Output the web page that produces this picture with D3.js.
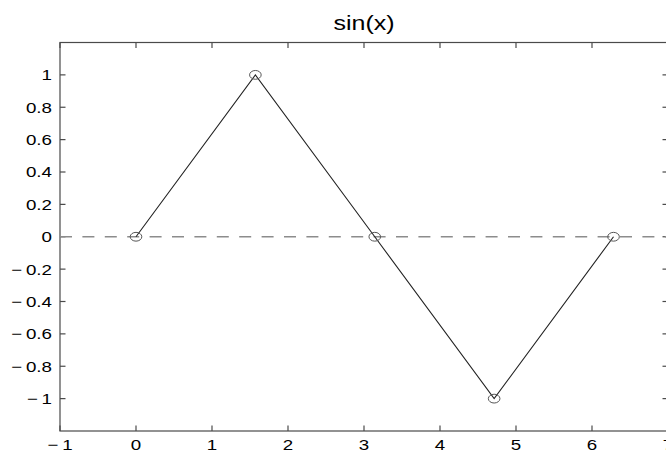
<!DOCTYPE html>
<html>
<head>
<meta charset="utf-8">
<script src="https://cdn.jsdelivr.net/npm/d3@7"></script>
<style>
  html, body { margin: 0; padding: 0; background: #fff; }
  svg { display: block; }
  text { font-family: "Liberation Sans", Arial, Helvetica, sans-serif; fill: #000; }
</style>
</head>
<body>
<svg id="chart" width="666" height="450"></svg>
<script>
// Samples of sin(x) at 0, pi/2, pi, 3pi/2, 2pi
const xValues = [0, 1.5708, 3.1416, 4.7124, 6.2832];
const yValues = [0, 1, 0, -1, 0];

// Axis ticks and limits
const xTicks = [-1, 0, 1, 2, 3, 4, 5, 6, 7];
const yTicks = [-1, -0.8, -0.6, -0.4, -0.2, 0, 0.2, 0.4, 0.6, 0.8, 1];
const xLimits = [-1, 7];
const yLimits = [-1.2, 1.2];
const titleText = "sin(x)";

const svg = d3.select("#chart");
const plot = { left: 60, right: 668, top: 42.5, bottom: 431 };
const textStretch = 1.25;   // wide, stretched glyphs

const x = d3.scaleLinear().domain(xLimits).range([plot.left, plot.right]);
const y = d3.scaleLinear().domain(yLimits).range([plot.bottom, plot.top]);

const fmt = v => {
  const s = d3.format("")(Math.abs(v));
  return v < 0 ? "\u2212\u2009" + s : s;
};

const boxColor = "#4a4a4a";

// Frame of the axes
svg.append("rect")
  .attr("x", plot.left).attr("y", plot.top)
  .attr("width", plot.right - plot.left).attr("height", plot.bottom - plot.top)
  .attr("fill", "none").attr("stroke", boxColor).attr("stroke-width", 1.2);

// Inward tick marks on all four sides
const tickLen = 5.5;
const gTicks = svg.append("g").attr("stroke", boxColor).attr("stroke-width", 1.2);
xTicks.forEach(t => {
  gTicks.append("line").attr("x1", x(t)).attr("x2", x(t))
    .attr("y1", plot.bottom).attr("y2", plot.bottom - tickLen);
  gTicks.append("line").attr("x1", x(t)).attr("x2", x(t))
    .attr("y1", plot.top).attr("y2", plot.top + tickLen);
});
yTicks.forEach(t => {
  gTicks.append("line").attr("x1", plot.left).attr("x2", plot.left + tickLen)
    .attr("y1", y(t)).attr("y2", y(t));
  gTicks.append("line").attr("x1", plot.right).attr("x2", plot.right - tickLen)
    .attr("y1", y(t)).attr("y2", y(t));
});

// Tick labels
svg.append("g").selectAll("text").data(xTicks).join("text")
  .attr("transform", d => `translate(${x(d)},${plot.bottom + 18.5}) scale(${textStretch},1)`)
  .attr("text-anchor", "middle")
  .attr("font-size", 15)
  .text(fmt);

svg.append("g").selectAll("text").data(yTicks).join("text")
  .attr("transform", d => `translate(${plot.left - 8},${y(d)}) scale(${textStretch},1)`)
  .attr("text-anchor", "end")
  .attr("dy", "0.36em")
  .attr("font-size", 15)
  .text(fmt);

// Title
svg.append("text")
  .attr("transform", `translate(${(plot.left + plot.right) / 2},29.5) scale(${textStretch},1)`)
  .attr("text-anchor", "middle")
  .attr("font-size", 20)
  .text(titleText);

// Dashed zero reference line
svg.append("line")
  .attr("x1", x(xLimits[0])).attr("x2", x(xLimits[1]))
  .attr("y1", y(0)).attr("y2", y(0))
  .attr("stroke", "#8c8c8c").attr("stroke-width", 1.6)
  .attr("stroke-dasharray", "12,10.4");

// Data line
const pts = xValues.map((v, i) => [v, yValues[i]]);
svg.append("path")
  .datum(pts)
  .attr("d", d3.line().x(d => x(d[0])).y(d => y(d[1])))
  .attr("fill", "none").attr("stroke", "#222").attr("stroke-width", 1.1);

// Circle markers (drawn slightly oval, like the stretched text)
svg.append("g").selectAll("ellipse").data(pts).join("ellipse")
  .attr("cx", d => x(d[0])).attr("cy", d => y(d[1]))
  .attr("rx", 5.8).attr("ry", 4.4)
  .attr("fill", "none").attr("stroke", "#555").attr("stroke-width", 1);
</script>
</body>
</html>
